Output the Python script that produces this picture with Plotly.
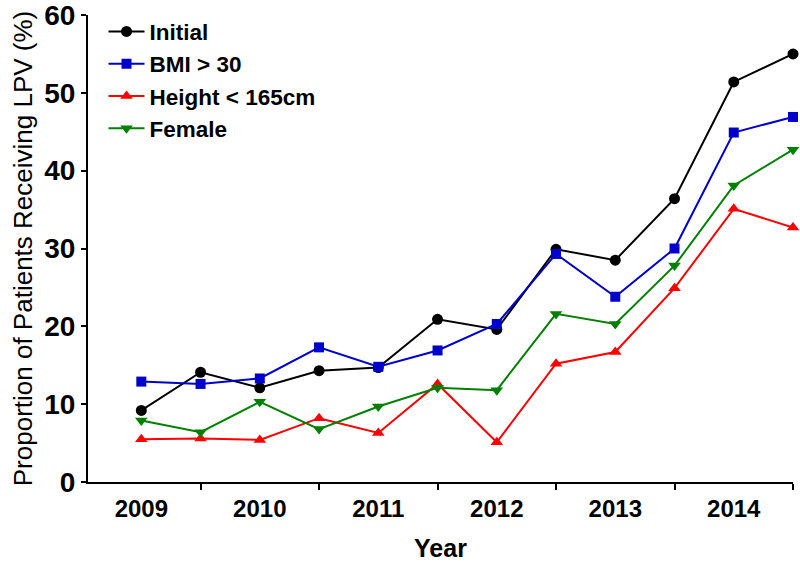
import plotly.graph_objects as go

years = [2009, 2009.5, 2010, 2010.5, 2011, 2011.5, 2012, 2012.5, 2013, 2013.5, 2014, 2014.5]
initial = [9.2, 14.1, 12.1, 14.3, 14.7, 20.9, 19.6, 29.9, 28.5, 36.4, 51.4, 55.0]
bmi = [12.9, 12.6, 13.3, 17.3, 14.8, 16.9, 20.3, 29.3, 23.8, 30.0, 44.9, 46.9]
height = [5.5, 5.6, 5.4, 8.2, 6.3, 12.6, 5.1, 15.2, 16.7, 24.9, 35.1, 32.7]
female = [7.9, 6.4, 10.3, 6.8, 9.7, 12.1, 11.8, 21.6, 20.3, 27.8, 38.1, 42.7]

year_labels = [2009, 2010, 2011, 2012, 2013, 2014]
tick_marks = [2009.5, 2010.5, 2011.5, 2012.5, 2013.5, 2014.5]

series = [
    ("Initial", initial, "black", "circle", 11),
    ("BMI > 30", bmi, "#0000CC", "square", 10),
    ("Height < 165cm", height, "#FF0000", "triangle-up", 11),
    ("Female", female, "#008000", "triangle-down", 11),
]

fig = go.Figure()
for name, vals, color, sym, msize in series:
    fig.add_trace(go.Scatter(
        x=years, y=vals, name=name, mode="lines+markers",
        line=dict(color=color, width=2),
        marker=dict(color=color, symbol=sym, size=msize),
        cliponaxis=False,
    ))

font_family = "Liberation Sans, Arial, sans-serif"

fig.update_layout(
    width=800, height=562,
    margin=dict(l=88, r=7, t=15, b=80),
    plot_bgcolor="white", paper_bgcolor="white",
    font=dict(family=font_family, color="black"),
    legend=dict(
        x=0.022, y=1.01, xanchor="left", yanchor="top",
        font=dict(size=22.5, family=font_family, weight="bold"),
        bgcolor="rgba(0,0,0,0)", tracegroupgap=0, itemwidth=36,
    ),
    showlegend=True,
)

fig.update_xaxes(
    range=[2008.55, 2014.5], automargin=False,
    tickmode="array", tickvals=year_labels, ticktext=[str(y) for y in year_labels],
    ticks="", ticklabelstandoff=4,
    tickfont=dict(size=24, family=font_family, weight="bold"),
    showline=True, linecolor="black", linewidth=2,
    showgrid=False, zeroline=False,
    minor=dict(tickmode="array", tickvals=tick_marks, ticks="outside", ticklen=6,
               tickwidth=2, tickcolor="black", showgrid=False),
    title=dict(text="Year", font=dict(size=25, family=font_family, weight="bold"), standoff=22),
)

fig.update_yaxes(
    range=[0, 60], dtick=10, tick0=0, automargin=False,
    ticks="outside", ticklen=5, tickwidth=2, tickcolor="black",
    tickfont=dict(size=28, family=font_family, weight="bold"),
    ticklabeloverflow="allow",
    showline=True, linecolor="black", linewidth=2,
    showgrid=False, zeroline=False,
    title=dict(text="Proportion of Patients Receiving LPV (%)",
               font=dict(size=26, family=font_family), standoff=4),
)

fig.write_html(
    "out.html",
    config={"displayModeBar": False},
    post_script="document.body.style.margin='0';document.body.style.overflow='hidden';",
)
